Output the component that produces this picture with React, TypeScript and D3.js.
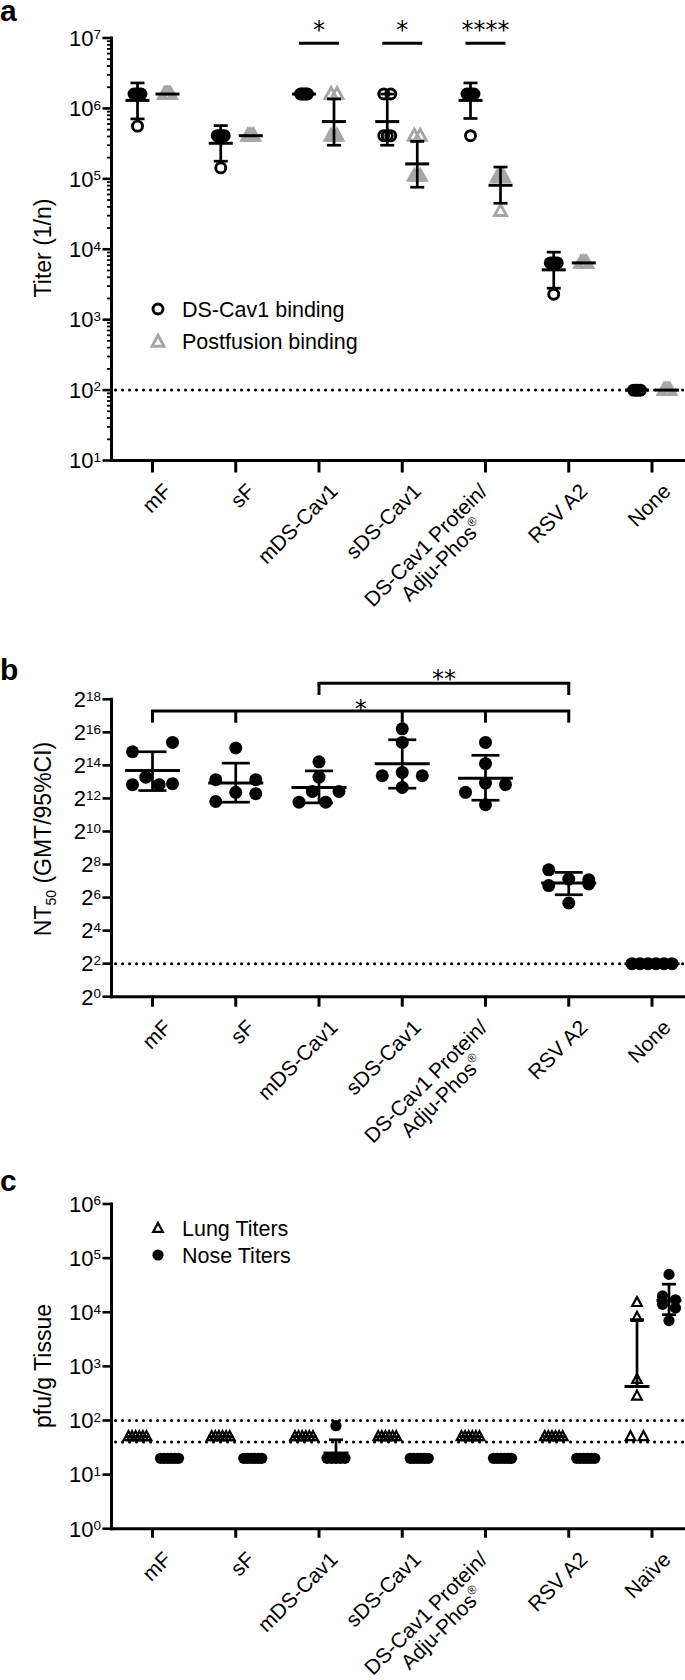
import React from 'react';
import * as d3 from 'd3';

const FONT = '"Liberation Sans", Arial, Helvetica, sans-serif';
const GRAY = '#a6a6a6';

// group labels ("|" = line break)
const groupsAB = ['mF', 'sF', 'mDS-Cav1', 'sDS-Cav1', 'DS-Cav1 Protein/|Adju-Phos®', 'RSV A2', 'None'];
const groupsC = ['mF', 'sF', 'mDS-Cav1', 'sDS-Cav1', 'DS-Cav1 Protein/|Adju-Phos®', 'RSV A2', 'Naïve'];

// ---- panel a: binding titers (1/n)
const dsCav1Binding = [
  [1.6e6, 1.6e6, 1.6e6, 1.6e6, 5.6e5],
  [4.1e5, 4.1e5, 4.1e5, 4.1e5, 1.43e5],
  [1.6e6, 1.6e6, 1.6e6, 1.6e6, 1.6e6],
  [1.6e6, 1.6e6, 4.1e5, 4.1e5, 4.1e5],
  [1.6e6, 1.6e6, 1.6e6, 1.6e6, 4.1e5],
  [6.4e3, 6.4e3, 6.4e3, 6.4e3, 2.3e3],
  [100, 100, 100, 100, 100],
];
const dsCav1Gmt = [1.3e6, 3.2e5, 1.6e6, 6.5e5, 1.3e6, 5.1e3, 100];
const dsCav1Low = [7.1e5, 1.78e5, 1.6e6, 3.0e5, 7.2e5, 2.8e3, 100];
const dsCav1High = [2.3e6, 5.7e5, 1.6e6, 1.6e6, 2.3e6, 9.1e3, 100];

const postfusionBinding = [
  [1.6e6, 1.6e6, 1.6e6, 1.6e6, 1.6e6],
  [4.1e5, 4.1e5, 4.1e5, 4.1e5, 4.1e5],
  [1.6e6, 1.6e6, 4.1e5, 4.1e5, 4.1e5],
  [4.1e5, 4.1e5, 1.1e5, 1.1e5, 1.1e5],
  [1.07e5, 1.07e5, 1.07e5, 1.07e5, 3.5e4],
  [6.4e3, 6.4e3, 6.4e3, 6.4e3, 6.4e3],
  [100, 100, 100, 100, 100],
];
const postfusionGmt = [1.6e6, 4.1e5, 6.5e5, 1.63e5, 8.1e4, 6.4e3, 100];
const postfusionLow = [1.6e6, 4.1e5, 3.0e5, 7.6e4, 4.5e4, 6.4e3, 100];
const postfusionHigh = [1.6e6, 4.1e5, 1.36e6, 3.4e5, 1.47e5, 6.4e3, 100];

const sigA = [
  { group: 2, label: '*' },
  { group: 3, label: '*' },
  { group: 4, label: '****' },
];
const lodA = 100;
const expA = [1, 2, 3, 4, 5, 6, 7];

// ---- panel b: neutralizing titers NT50
const nt50 = [
  [7300, 29000, 10000, 43000, 7300, 7600],
  [34000, 9000, 5300, 9000, 3600, 5000],
  [19000, 10000, 3500, 5500, 3500, 5500],
  [76000, 43000, 10600, 12200, 10600, 6500],
  [43000, 17600, 5300, 7800, 7300, 3150],
  [205, 139, 135, 106, 113, 51],
  [4, 4, 4, 4, 4, 4],
];
const nt50Gmt = [13200, 7800, 6500, 17600, 9600, 118, 4];
const nt50Low = [5700, 3500, 3400, 6300, 3800, 72, 4];
const nt50High = [29000, 18000, 13000, 48000, 25000, 184, 4];
const lodB = 4;
const expB = [0, 2, 4, 6, 8, 10, 12, 14, 16, 18];
const bracketsB = [
  { from: 0, to: 5, drops: [0, 1, 3, 4, 5], label: '*', level: 0 },
  { from: 2, to: 5, drops: [2, 5], label: '**', level: 1 },
];

// ---- panel c: virus titers (pfu/g tissue)
const lungTiters = [
  [50, 50, 50, 50, 50, 50],
  [50, 50, 50, 50, 50, 50],
  [50, 50, 50, 50, 50, 50],
  [50, 50, 50, 50, 50, 50],
  [50, 50, 50, 50, 50, 50],
  [50, 50, 50, 50, 50, 50],
  [15000, 8000, 570, 280, 50, 50],
];
const lungGmt = [50, 50, 50, 50, 50, 50, 424];
const lungLow = [50, 50, 50, 50, 50, 50, 424];
const lungHigh = [50, 50, 50, 50, 50, 50, 7300];
const noseTiters = [
  [20, 20, 20, 20, 20, 20],
  [20, 20, 20, 20, 20, 20],
  [80, 20, 20, 20, 20, 20],
  [20, 20, 20, 20, 20, 20],
  [20, 20, 20, 20, 20, 20],
  [20, 20, 20, 20, 20, 20],
  [50000, 20000, 17000, 14000, 12000, 7000],
];
const noseGmt = [20, 20, 25, 20, 20, 20, 16500];
const noseLow = [20, 20, 25, 20, 20, 20, 9000];
const noseHigh = [20, 20, 44, 20, 20, 20, 33000];
const lodC = [100, 40];
const expC = [0, 1, 2, 3, 4, 5, 6];

// spread tied values horizontally, like a column scatter
function spreadOffsets(
  values: number[],
  y: (v: number) => number,
  threshold: number,
  maxSpread: number,
  maxStep: number
) {
  const ys = values.map(y);
  const order = d3.range(values.length).sort((a, b) => ys[a] - ys[b]);
  const bins: number[][] = [];
  let start = -Infinity;
  order.forEach((i) => {
    if (bins.length && ys[i] - start < threshold) bins[bins.length - 1].push(i);
    else {
      bins.push([i]);
      start = ys[i];
    }
  });
  const off = new Array(values.length).fill(0);
  bins.forEach((bin) => {
    bin.sort((a, b) => a - b);
    const n = bin.length;
    const step = n > 1 ? Math.min(maxStep, maxSpread / (n - 1)) : 0;
    bin.forEach((i, k) => (off[i] = (k - (n - 1) / 2) * step));
  });
  return off;
}

const AX_X = 111.5;
const X_END = 700;

function triPath(hw: number, top: number, bottom: number) {
  return `M0,${-top}L${hw},${bottom}L${-hw},${bottom}Z`;
}

function ErrBar({ cx, ym, yl, yh, meanHalf, capHalf }: any) {
  return (
    <g stroke="#000" strokeWidth={2.7}>
      {yh < ym - 0.5 && (
        <>
          <line x1={cx} x2={cx} y1={ym} y2={yh} />
          <line x1={cx - capHalf} x2={cx + capHalf} y1={yh} y2={yh} />
        </>
      )}
      {yl > ym + 0.5 && (
        <>
          <line x1={cx} x2={cx} y1={ym} y2={yl} />
          <line x1={cx - capHalf} x2={cx + capHalf} y1={yl} y2={yl} />
        </>
      )}
      <line x1={cx - meanHalf} x2={cx + meanHalf} y1={ym} y2={ym} strokeWidth={3} />
    </g>
  );
}

function labelLine(s: string) {
  if (s.includes('®')) {
    return (
      <>
        {s.replace('®', '')}
        <tspan fontSize={12} dy={-9}>
          ®
        </tspan>
      </>
    );
  }
  return s;
}

function XAxis({ x, y0, labels, tickLen }: any) {
  return (
    <g>
      <line x1={AX_X - 1.5} x2={X_END} y1={y0} y2={y0} stroke="#000" strokeWidth={3} />
      {labels.map((_: string, i: number) => (
        <line key={i} x1={x(i)} x2={x(i)} y1={y0} y2={y0 + tickLen} stroke="#000" strokeWidth={3} />
      ))}
      {labels.map((lab: string, i: number) => {
        const lines = lab.split('|');
        return (
          <g key={'l' + i} transform={`translate(${x(i) + 20},${y0 + 32}) rotate(-45)`} fontSize={21}>
            {lines.length === 1 ? (
              <text textAnchor="end">{labelLine(lab)}</text>
            ) : (
              <>
                <text x={-12} y={-12} textAnchor="end">
                  {labelLine(lines[0])}
                </text>
                <text x={-40} y={10} textAnchor="end">
                  {labelLine(lines[1])}
                </text>
              </>
            )}
          </g>
        );
      })}
    </g>
  );
}

function YAxis({ y, exps, base, minor, top, bottom }: any) {
  const minorTicks: number[] = [];
  if (minor) {
    for (let k = exps[0]; k < exps[exps.length - 1]; k++) {
      for (let m = 2; m <= 9; m++) minorTicks.push(m * Math.pow(base, k));
    }
  }
  return (
    <g stroke="#000">
      <line x1={AX_X} x2={AX_X} y1={top - 1.5} y2={bottom + 1.5} strokeWidth={3} />
      {minorTicks.map((v, i) => (
        <line key={'m' + i} x1={AX_X - 4.5} x2={AX_X} y1={y(v)} y2={y(v)} strokeWidth={1.8} />
      ))}
      {exps.map((e: number) => {
        const yy = y(Math.pow(base, e));
        return (
          <g key={e}>
            <line x1={AX_X - 9} x2={AX_X} y1={yy} y2={yy} strokeWidth={2.6} />
            <text x={101} y={yy + 7.8} textAnchor="end" fontSize={22} stroke="none" fill="#000">
              {base}
              <tspan fontSize={13.5} dy={-6.5}>
                {e}
              </tspan>
            </text>
          </g>
        );
      })}
    </g>
  );
}

function Dotted({ yy }: { yy: number }) {
  return (
    <line
      x1={AX_X + 4}
      x2={X_END}
      y1={yy}
      y2={yy}
      stroke="#000"
      strokeWidth={3}
      strokeDasharray="0.1 6.9"
      strokeLinecap="round"
    />
  );
}

export default function App() {
  const x = d3.scalePoint<number>().domain(d3.range(7)).range([152.5, 652]);
  const yA = d3.scaleLog().domain([10, 1e7]).range([460.5, 38]);
  const yB = d3.scaleLog().base(2).domain([1, 2 ** 18]).range([996.7, 699.3]);
  const yC = d3.scaleLog().domain([1, 1e6]).range([1528.7, 1204]);

  const triA = triPath(6, 6.5, 4.5);
  const triC = triPath(4.8, 5.6, 3.3);

  return (
    <svg
      width={685}
      height={1680}
      style={{ position: 'absolute', left: 0, top: 0, background: '#fff' }}
      fontFamily={FONT}
    >
      {/* ================= panel a ================= */}
      <text x={0} y={21} fontSize={30} fontWeight="bold">
        a
      </text>
      <text transform="translate(51,248) rotate(-90)" textAnchor="middle" fontSize={23}>
        Titer (1/n)
      </text>
      <Dotted yy={yA(lodA)} />
      {dsCav1Binding.map((vals, g) => {
        const off = spreadOffsets(vals, yA, 6, 7, 10);
        const cx = (x(g) as number) - 15;
        return (
          <g key={'ac' + g}>
            {vals.map((v, i) => (
              <circle key={i} cx={cx + off[i]} cy={yA(v)} r={5} fill="none" stroke="#000" strokeWidth={2.9} />
            ))}
          </g>
        );
      })}
      {postfusionBinding.map((vals, g) => {
        const off = spreadOffsets(vals, yA, 6, 6, 10);
        const cx = (x(g) as number) + 15;
        return (
          <g key={'at' + g}>
            {vals.map((v, i) => (
              <path
                key={i}
                d={triA}
                transform={`translate(${cx + off[i]},${yA(v)})`}
                fill="none"
                stroke={GRAY}
                strokeWidth={2.9}
              />
            ))}
          </g>
        );
      })}
      {groupsAB.map((_, g) => (
        <g key={'ae' + g}>
          <ErrBar
            cx={(x(g) as number) - 15}
            ym={yA(dsCav1Gmt[g])}
            yl={yA(dsCav1Low[g])}
            yh={yA(dsCav1High[g])}
            meanHalf={12}
            capHalf={7}
          />
          <ErrBar
            cx={(x(g) as number) + 15}
            ym={yA(postfusionGmt[g])}
            yl={yA(postfusionLow[g])}
            yh={yA(postfusionHigh[g])}
            meanHalf={12}
            capHalf={7}
          />
        </g>
      ))}
      {sigA.map((s) => (
        <g key={'s' + s.group}>
          <line
            x1={(x(s.group) as number) - 20}
            x2={(x(s.group) as number) + 20}
            y1={43.3}
            y2={43.3}
            stroke="#000"
            strokeWidth={3}
          />
          <text x={x(s.group)} y={38} textAnchor="middle" fontSize={24} fontFamily='"DejaVu Sans", sans-serif'>
            {s.label}
          </text>
        </g>
      ))}
      {/* legend a */}
      <circle cx={158} cy={309} r={5} fill="none" stroke="#000" strokeWidth={2.9} />
      <text x={182} y={316.7} fontSize={21.5}>
        DS-Cav1 binding
      </text>
      <path d={triA} transform="translate(158,341.7)" fill="none" stroke={GRAY} strokeWidth={2.9} />
      <text x={182} y={349.2} fontSize={21.5}>
        Postfusion binding
      </text>
      <YAxis y={yA} exps={expA} base={10} minor top={yA(1e7)} bottom={yA(10)} />
      <XAxis x={x} y0={yA(10)} labels={groupsAB} tickLen={12} />

      {/* ================= panel b ================= */}
      <text x={0} y={680} fontSize={30} fontWeight="bold">
        b
      </text>
      <text transform="translate(51,839) rotate(-90)" textAnchor="middle" fontSize={23}>
        NT
        <tspan fontSize={14} dy={5}>
          50
        </tspan>
        <tspan dy={-5}> (GMT/95%CI)</tspan>
      </text>
      <Dotted yy={yB(lodB)} />
      {nt50.map((vals, g) => {
        const off = spreadOffsets(vals, yB, 13, 40, 40);
        const cx = x(g) as number;
        return (
          <g key={'b' + g}>
            {vals.map((v, i) => (
              <circle key={i} cx={cx + off[i]} cy={yB(v)} r={6.5} fill="#000" />
            ))}
            <ErrBar
              cx={cx}
              ym={yB(nt50Gmt[g])}
              yl={yB(nt50Low[g])}
              yh={yB(nt50High[g])}
              meanHalf={27.5}
              capHalf={14}
            />
          </g>
        );
      })}
      {bracketsB.map((b, k) => {
        const yy = b.level === 0 ? 711 : 683.3;
        const x1 = x(b.from) as number;
        const x2 = x(b.to) as number;
        return (
          <g key={'br' + k} stroke="#000" strokeWidth={3} fill="none">
            <line x1={x1 - 1.5} x2={x2 + 1.5} y1={yy} y2={yy} />
            {b.drops.map((d) => (
              <line key={d} x1={x(d)} x2={x(d)} y1={yy} y2={yy + 11.7} />
            ))}
            <text
              x={(x1 + x2) / 2}
              y={yy + 5.5 - (b.level === 0 ? 0 : 2)}
              textAnchor="middle"
              fontSize={24}
              stroke="none"
              fill="#000"
              fontFamily='"DejaVu Sans", sans-serif'
            >
              {b.label}
            </text>
          </g>
        );
      })}
      <YAxis y={yB} exps={expB} base={2} top={yB(2 ** 18)} bottom={yB(1)} />
      <XAxis x={x} y0={yB(1)} labels={groupsAB} tickLen={10} />

      {/* ================= panel c ================= */}
      <text x={0} y={1191} fontSize={30} fontWeight="bold">
        c
      </text>
      <text transform="translate(51,1366) rotate(-90)" textAnchor="middle" fontSize={23}>
        pfu/g Tissue
      </text>
      {lodC.map((l) => (
        <Dotted key={l} yy={yC(l)} />
      ))}
      {lungTiters.map((vals, g) => {
        const off = spreadOffsets(vals, yC, 6, 18, 13);
        const cx = (x(g) as number) - 15;
        return (
          <g key={'cl' + g}>
            {vals.map((v, i) => (
              <path
                key={i}
                d={triC}
                transform={`translate(${cx + off[i]},${yC(v)})`}
                fill="none"
                stroke="#000"
                strokeWidth={2.2}
              />
            ))}
            <ErrBar
              cx={cx}
              ym={yC(lungGmt[g])}
              yl={yC(lungLow[g])}
              yh={yC(lungHigh[g])}
              meanHalf={12.5}
              capHalf={7}
            />
          </g>
        );
      })}
      {noseTiters.map((vals, g) => {
        const off = spreadOffsets(vals, yC, 6, 18, 13);
        const cx = (x(g) as number) + 17;
        return (
          <g key={'cn' + g}>
            {vals.map((v, i) => (
              <circle key={i} cx={cx + off[i]} cy={yC(v)} r={5.6} fill="#000" />
            ))}
            <ErrBar
              cx={cx}
              ym={yC(noseGmt[g])}
              yl={yC(noseLow[g])}
              yh={yC(noseHigh[g])}
              meanHalf={12.5}
              capHalf={7}
            />
          </g>
        );
      })}
      {/* legend c */}
      <path d={triC} transform="translate(158,1228.5)" fill="none" stroke="#000" strokeWidth={2.2} />
      <text x={182} y={1235.5} fontSize={21.5}>
        Lung Titers
      </text>
      <circle cx={158} cy={1255} r={5.6} fill="#000" />
      <text x={182} y={1262.5} fontSize={21.5}>
        Nose Titers
      </text>
      <YAxis y={yC} exps={expC} base={10} top={yC(1e6)} bottom={yC(1)} />
      <XAxis x={x} y0={yC(1)} labels={groupsC} tickLen={9} />
    </svg>
  );
}
